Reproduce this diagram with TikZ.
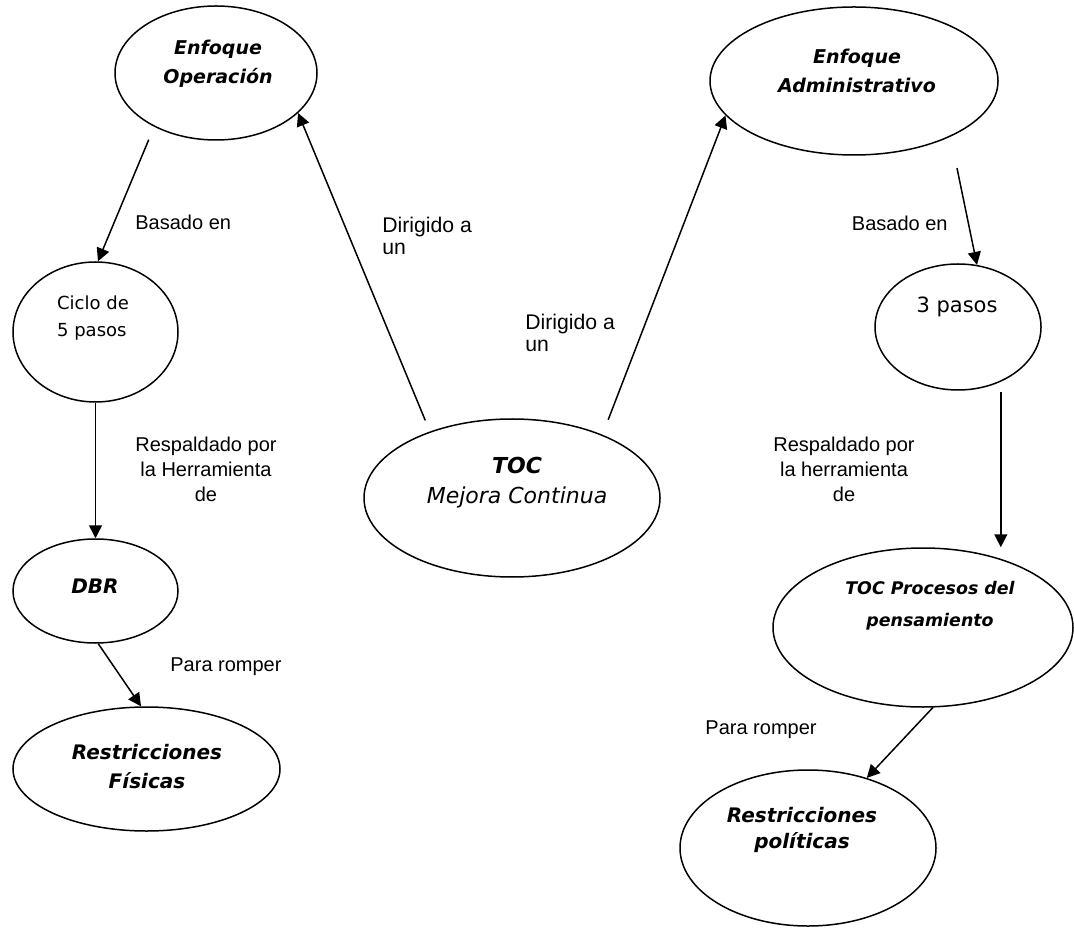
\documentclass[tikz,border=0pt]{standalone}
\usepackage{fontspec}
\setmainfont{Liberation Sans}
\newfontfamily\verd{DejaVu Sans}
\usetikzlibrary{arrows.meta, shapes.geometric}

\begin{document}
\begin{tikzpicture}[x=0.5pt, y=-0.5pt,
    elli/.style={ellipse, draw, line width=0.75pt, inner sep=0pt},
    etxt/.style={align=center, inner sep=0pt, font=\verd\bfseries\itshape\fontsize{9.5}{14.5}\selectfont},
    ptxt/.style={align=left, inner sep=0pt, font=\verd\fontsize{9}{13.5}\selectfont},
    lbl/.style={inner sep=0pt, font=\fontsize{10}{12}\selectfont},
    arr/.style={-{Triangle[length=6.5pt, width=6.5pt]}, line width=0.75pt}]
    \useasboundingbox (0,0) rectangle (1074,929);
    % ellipses
    \node[elli, minimum width=101pt, minimum height=67pt] (eop) at (216,73) {};
    \node[elli, minimum width=144pt, minimum height=74pt] (adm) at (854,81) {};
    \node[elli, minimum width=82.5pt, minimum height=70pt] (ciclo) at (95.5,332) {};
    \node[elli, minimum width=83pt, minimum height=63pt] (tres) at (958,327) {};
    \node[elli, minimum width=148pt, minimum height=79pt] (toc) at (512,498) {};
    \node[elli, minimum width=82.5pt, minimum height=52pt] (dbr) at (95.5,591) {};
    \node[elli, minimum width=133.5pt, minimum height=62pt] (rfis) at (146.5,769) {};
    \node[elli, minimum width=150pt, minimum height=79.5pt] (tocp) at (923,627.5) {};
    \node[elli, minimum width=128pt, minimum height=78pt] (rpol) at (808,848) {};
    % texts inside
    \node[etxt] (eopT) at (218,64) {Enfoque\\Operación};
    \node[etxt] (admT) at (857,71) {Enfoque\\Administrativo};
    \node[ptxt] (cicloT) at (93,318) {Ciclo de\\5 pasos};
    \node[ptxt, font=\verd\fontsize{10.5}{13}\selectfont] (tresT) at (957,307) {3 pasos};
    \node[align=center, inner sep=0pt, font=\verd\itshape\fontsize{11}{15}\selectfont] (tocT) at (517,483) {\textbf{TOC}\\Mejora Continua};
    \node[etxt, font=\verd\bfseries\itshape\fontsize{10}{14}\selectfont] (dbrT) at (95,586) {DBR};
    \node[etxt, font=\verd\bfseries\itshape\fontsize{10}{14.5}\selectfont] (rfisT) at (147,767) {Restricciones\\Físicas};
    \node[etxt, font=\verd\bfseries\itshape\fontsize{8.7}{16}\selectfont] (tocpT) at (930,606) {TOC Procesos del\\pensamiento};
    \node[etxt, font=\verd\bfseries\itshape\fontsize{10}{13}\selectfont] (rpolT) at (802,830) {Restricciones\\políticas};
    % connectors
    \draw[arr, shorten <=6pt] (toc.141) -- (eop.-26);
    \draw[arr, shorten <=8pt] (toc.35) -- (adm.-165);
    \draw[arr, shorten <=7pt] (eop.-139) -- (ciclo.88);
    \draw[arr, shorten <=16pt] (adm.-30) -- (tres.73);
    \draw[arr] (ciclo.south) -- (dbr.north);
    \draw[arr, shorten <=5pt] (tres.-52) -- (tres.-52 |- tocp.north);
    \draw[arr] (dbr.-87) -- (rfis.95);
    \draw[arr] (tocp.-83) -- (rpol.50);
    % labels
    \node[lbl, anchor=west] (bas1) at (135,222) {Basado en};
    \node[lbl, anchor=east] (bas2) at (948,223) {Basado en};
    \node[lbl, anchor=west, align=left, font=\fontsize{10.6}{11}\selectfont] (dir1) at (382,236) {Dirigido a\\un};
    \node[lbl, anchor=west, align=left, font=\fontsize{10.6}{11}\selectfont] (dir2) at (525,332.5) {Dirigido a\\un};
    \node[lbl, align=center, font=\fontsize{10}{12.5}\selectfont] (res1) at (206,469) {Respaldado por\\la Herramienta\\de};
    \node[lbl, align=center, font=\fontsize{10}{12.5}\selectfont] (res2) at (844,469) {Respaldado por\\la herramienta\\de};
    \node[lbl, anchor=west] (rom1) at (170,667) {Para romper};
    \node[lbl, anchor=east] (rom2) at (817,730) {Para romper};
\end{tikzpicture}
\end{document}
